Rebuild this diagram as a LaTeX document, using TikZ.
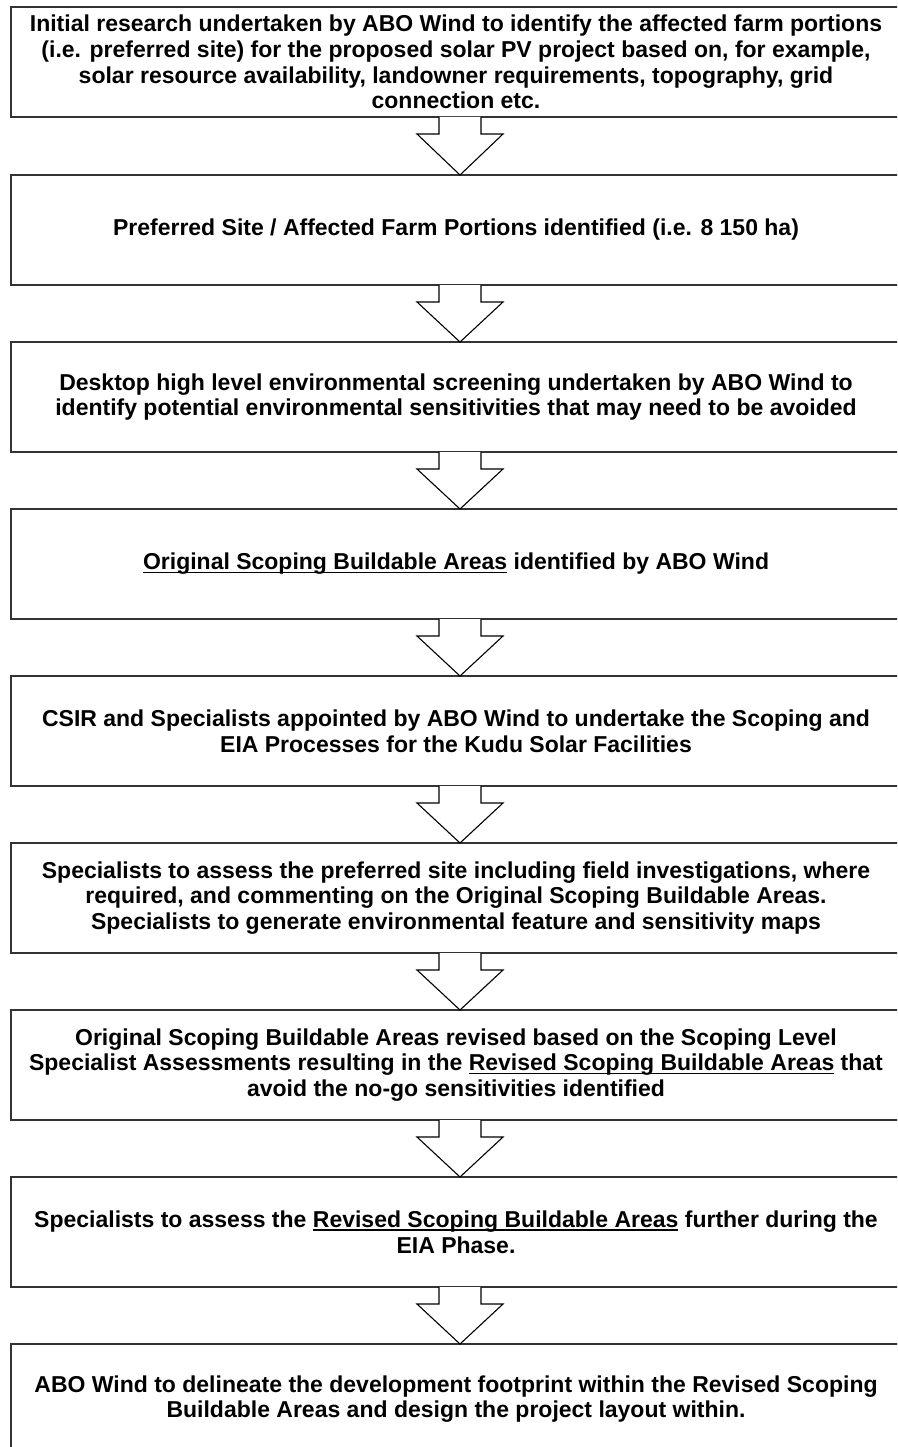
\documentclass[tikz,border=0pt]{standalone}
\usepackage{fontspec}
\setmainfont{Liberation Sans}
\newcommand\uln[1]{\setbox0\hbox{#1}\rlap{\vrule width\wd0 height -1.6pt depth 3.2pt}\box0\relax}
\begin{document}
\begin{tikzpicture}[x=1pt,y=-1pt,
  stepbox/.style={draw=black!80, line width=2pt, fill=white, rectangle, outer sep=0pt,
    minimum width=890pt, minimum height=110pt, inner sep=0pt, align=center,
    font=\fontsize{23}{25.7}\selectfont\bfseries},
  blockarrow/.style={draw=black, line width=1.1pt, fill=white, line join=miter}]
\clip (0,0) rectangle (897,1447);
\fill[white] (0,0) rectangle (897,1447);
\node[stepbox] (b1) at (456,62) {Initial research undertaken by ABO Wind to identify the affected farm portions\\(i.e. preferred site) for the proposed solar PV project based on, for example,\\solar resource availability, landowner requirements, topography, grid\\connection etc.};
\node[stepbox] (b2) at (456,230) {Preferred Site / Affected Farm Portions identified (i.e. 8 150 ha)};
\node[stepbox] (b3) at (456,397) {Desktop high level environmental screening undertaken by ABO Wind to\\identify potential environmental sensitivities that may need to be avoided};
\node[stepbox] (b4) at (456,564) {\uln{Original Scoping Buildable Areas} identified by ABO Wind};
\node[stepbox] (b5) at (456,731) {CSIR and Specialists appointed by ABO Wind to undertake the Scoping and\\EIA Processes for the Kudu Solar Facilities};
\node[stepbox] (b6) at (456,898) {Specialists to assess the preferred site including field investigations, where\\required, and commenting on the Original Scoping Buildable Areas.\\Specialists to generate environmental feature and sensitivity maps};
\node[stepbox] (b7) at (456,1065) {Original Scoping Buildable Areas revised based on the Scoping Level\\Specialist Assessments resulting in the \uln{Revised Scoping Buildable Areas} that\\avoid the no-go sensitivities identified};
\node[stepbox] (b8) at (456,1232) {Specialists to assess the \uln{Revised Scoping Buildable Areas} further during the\\EIA Phase.};
\node[stepbox] (b9) at (456,1399) {ABO Wind to delineate the development footprint within the Revised Scoping\\Buildable Areas and design the project layout within.};
\foreach \a/\b in {b1/b2,b2/b3,b3/b4,b4/b5,b5/b6,b6/b7,b7/b8,b8/b9}{
  \draw[blockarrow] ([xshift=-17pt]\a.south) -- ([xshift=-17pt,yshift=-17pt]\a.south)
    -- ([xshift=-39pt,yshift=-17pt]\a.south) -- ([xshift=4pt]\b.north)
    -- ([xshift=47pt,yshift=-17pt]\a.south) -- ([xshift=25pt,yshift=-17pt]\a.south)
    -- ([xshift=25pt]\a.south);
}
\end{tikzpicture}
\end{document}
